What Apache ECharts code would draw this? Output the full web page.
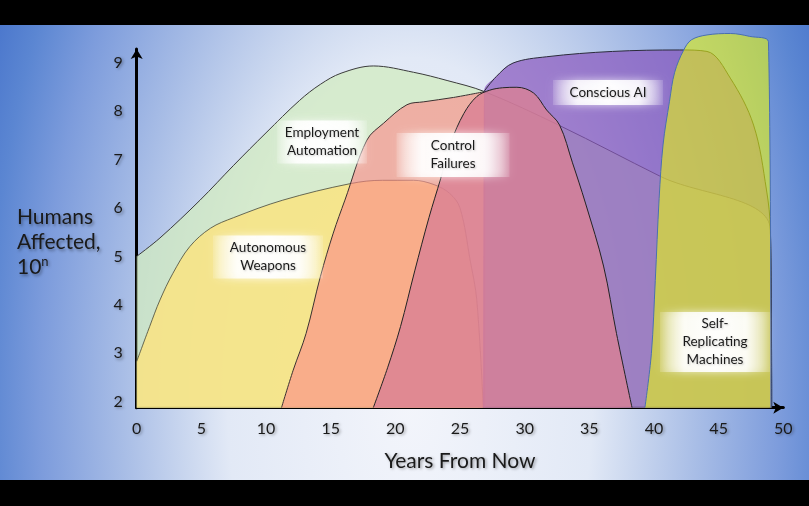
<!DOCTYPE html>
<html><head><meta charset="utf-8">
<script src="https://cdn.jsdelivr.net/npm/echarts@6/dist/echarts.min.js"></script>
<style>
html,body{margin:0;padding:0;background:#000;width:809px;height:506px;overflow:hidden;}
#bg{position:absolute;left:0;top:25px;width:809px;height:455px;
background:radial-gradient(ellipse 480px 900px at 410px 375px,#f3f5fb 0%,#e2e9f6 38%,#cad7ef 47%,#a8bde6 60%,#7d9cdc 77%,#5b86d2 88%,#4a76cc 96%,#4472c8 100%);}
#chart{position:absolute;left:0;top:0;width:809px;height:506px;}
</style></head><body><div id="bg"></div><div id="chart"></div>
<script>
// tick labels
const xTicks = [0, 5, 10, 15, 20, 25, 30, 35, 40, 45, 50];
const yTicks = [2, 3, 4, 5, 6, 7, 8, 9];

// Employment Automation
const employmentX = [0, 1.8, 4.9, 7.5, 10, 12.6, 14.2, 15.8, 18.3, 21.4, 24, 26.9, 32.7, 40.5, 49, 49.1];
const employmentY = [5, 5.38, 6.16, 6.88, 7.55, 8.22, 8.55, 8.78, 8.93, 8.8, 8.63, 8.4, 7.7, 6.65, 5.55, 1.88];
// Autonomous Weapons
const weaponsX = [0, 1, 1.8, 2.8, 4.1, 5.7, 7.5, 11.3, 16.5, 19, 21.4, 23, 24.2, 25, 25.8, 26.3, 26.8];
const weaponsY = [2.83, 3.55, 4.1, 4.65, 5.2, 5.58, 5.8, 6.16, 6.5, 6.57, 6.57, 6.48, 6.3, 6.0, 4.9, 4.1, 1.88];
// Control Failures
const controlX = [11.2, 12.1, 13.1, 14.2, 15.2, 16.1, 17.8, 19.1, 20.9, 22.2, 24.5, 26.9, 27];
const controlY = [1.88, 2.65, 3.41, 4.58, 5.48, 6.16, 7.4, 7.75, 8.13, 8.19, 8.28, 8.4, 1.88];
// second control-failure wave (magenta)
const failWaveX = [18.3, 19.4, 20.4, 21.5, 22.6, 23.5, 24.3, 25.3, 26.3, 27.3, 28.3, 29.4, 30.7, 31.7, 32.7, 33.7, 34.7, 36.1, 37.1, 38.3];
const failWaveY = [1.88, 2.7, 3.55, 4.7, 5.8, 6.6, 7.35, 7.95, 8.3, 8.43, 8.48, 8.49, 8.37, 8.02, 7.71, 6.93, 6.1, 4.8, 3.41, 1.88];
// Conscious AI
const consciousX = [26.8, 26.85, 27.8, 29.1, 31.7, 36.8, 42, 44.1, 45.9, 47.7, 48.7, 49, 49.1];
const consciousY = [1.88, 8.4, 8.71, 8.99, 9.12, 9.23, 9.26, 9.23, 8.68, 7.71, 6.37, 5.55, 1.88];
// Self-Replicating Machines
const selfRepX = [39.3, 39.8, 40.1, 40.4, 40.7, 41.2, 41.6, 42.3, 42.9, 44.1, 45.9, 47.4, 48.85, 49.05];
const selfRepY = [1.88, 3.0, 4.5, 6.2, 7.3, 8.2, 8.8, 9.26, 9.47, 9.57, 9.6, 9.54, 9.43, 1.88];

const pairs = (xs, ys) => xs.map((x, i) => [x, ys[i]]);
const FONT = 'Lato, "Open Sans", sans-serif';
const shadow = {textShadowColor: 'rgba(0,0,0,0.35)', textShadowBlur: 3, textShadowOffsetX: 1.5, textShadowOffsetY: 1.5};

function area(name, xs, ys, fill, stroke, z) {
  return {
    type: 'line', name, data: pairs(xs, ys), smooth: 0.35, symbol: 'none', clip: false, silent: true, z,
    lineStyle: stroke ? {color: stroke, width: 1} : {width: 0, opacity: 0},
    areaStyle: {color: fill, opacity: 1, origin: 'start'}
  };
}
function outline(name, xs, ys, from, to, stroke, z) {
  return {
    type: 'line', name, data: pairs(xs.slice(from, to), ys.slice(from, to)), smooth: 0.35, symbol: 'none',
    clip: false, silent: true, z, lineStyle: {color: stroke, width: 1}
  };
}

function glowLabel(cx, cy, w, h, text) {
  return [
    {type: 'rect', silent: true, z: 50, shape: {x: cx - w / 2, y: cy - h / 2, width: w, height: h},
     style: {fill: {type: 'linear', x: 0, y: 0, x2: 1, y2: 0, colorStops: [
       {offset: 0, color: 'rgba(255,255,255,0.15)'}, {offset: 0.22, color: 'rgba(255,255,255,0.82)'},
       {offset: 0.5, color: 'rgba(255,255,255,0.95)'},
       {offset: 0.78, color: 'rgba(255,255,255,0.82)'}, {offset: 1, color: 'rgba(255,255,255,0.15)'}]},
       shadowBlur: 8, shadowColor: 'rgba(255,255,255,0.8)'}},
    {type: 'text', silent: true, z: 51, style: {text, x: cx, y: cy, textAlign: 'center', textVerticalAlign: 'middle',
      font: '13.5px ' + FONT, lineHeight: 18, fill: '#1a1a1a',
      textShadowColor: 'rgba(0,0,0,0.2)', textShadowBlur: 2, textShadowOffsetX: 1, textShadowOffsetY: 1}}
  ];
}

const chart = echarts.init(document.getElementById('chart'), null, {renderer: 'canvas'});
chart.setOption({
  backgroundColor: 'transparent',
  animation: false,
  grid: {left: 136.7, right: 25.7, top: 49, bottom: 98.3},
  xAxis: {
    type: 'value', min: 0, max: 50, interval: 5,
    axisLine: {show: true, symbol: ['none', 'arrow'], symbolSize: [9, 10], lineStyle: {color: '#000', width: 3}},
    axisTick: {show: false}, splitLine: {show: false},
    axisLabel: {customValues: xTicks, margin: 13, color: '#1a1a1a', fontFamily: FONT, fontSize: 16, ...shadow},
    name: 'Years From Now', nameLocation: 'middle', nameGap: 43,
    nameTextStyle: {color: '#1a1a1a', fontFamily: FONT, fontSize: 21, ...shadow}
  },
  yAxis: {
    type: 'value', min: 1.876, max: 9.28,
    axisLine: {show: true, symbol: ['none', 'arrow'], symbolSize: [9, 10], lineStyle: {color: '#000', width: 3}},
    axisTick: {show: false}, splitLine: {show: false},
    axisLabel: {customValues: yTicks, margin: 14, color: '#1a1a1a', fontFamily: FONT, fontSize: 16, ...shadow}
  },
  graphic: {elements: [
    {type: 'text', silent: true, left: 17, top: 205, style: {
      text: 'Humans\nAffected,\n10{sup|n}', font: '21px ' + FONT, lineHeight: 25, fill: '#1a1a1a', ...shadow,
      rich: {sup: {fontSize: 13, fontFamily: FONT, verticalAlign: 'top', lineHeight: 14, fill: '#1a1a1a'}}}},
    ...glowLabel(322, 142, 90, 43, 'Employment\nAutomation'),
    ...glowLabel(268, 257, 110, 43, 'Autonomous\nWeapons'),
    ...glowLabel(453, 155, 113, 44, 'Control\nFailures'),
    ...glowLabel(608, 92.5, 110, 25, 'Conscious AI'),
    ...glowLabel(715, 342, 110, 60, 'Self-\nReplicating\nMachines')
  ]},
  series: [
    area('Employment Automation', employmentX, employmentY, 'rgba(210,235,192,0.75)', '#3a3a3a', 2),
    area('Autonomous Weapons', weaponsX, weaponsY, 'rgba(250,228,130,0.85)', 'rgba(70,70,55,0.8)', 3),
    area('Control Failures', controlX, controlY, 'rgba(252,135,135,0.6)', null, 4),
    outline('Control Failures outline', controlX, controlY, 0, 12, '#3a3030', 4),
    area('Conscious AI', consciousX, consciousY, 'rgba(135,85,190,0.7)', null, 5),
    outline('Conscious AI outline', consciousX, consciousY, 1, 13, '#2a2a3a', 5),
    area('Control Failures 2', failWaveX, failWaveY, 'rgba(218,127,148,0.8)', '#222', 6),
    area('Self-Replicating Machines', selfRepX, selfRepY, 'rgba(235,250,10,0.58)', '#4a6fb0', 7)
  ]
});
</script></body></html>
